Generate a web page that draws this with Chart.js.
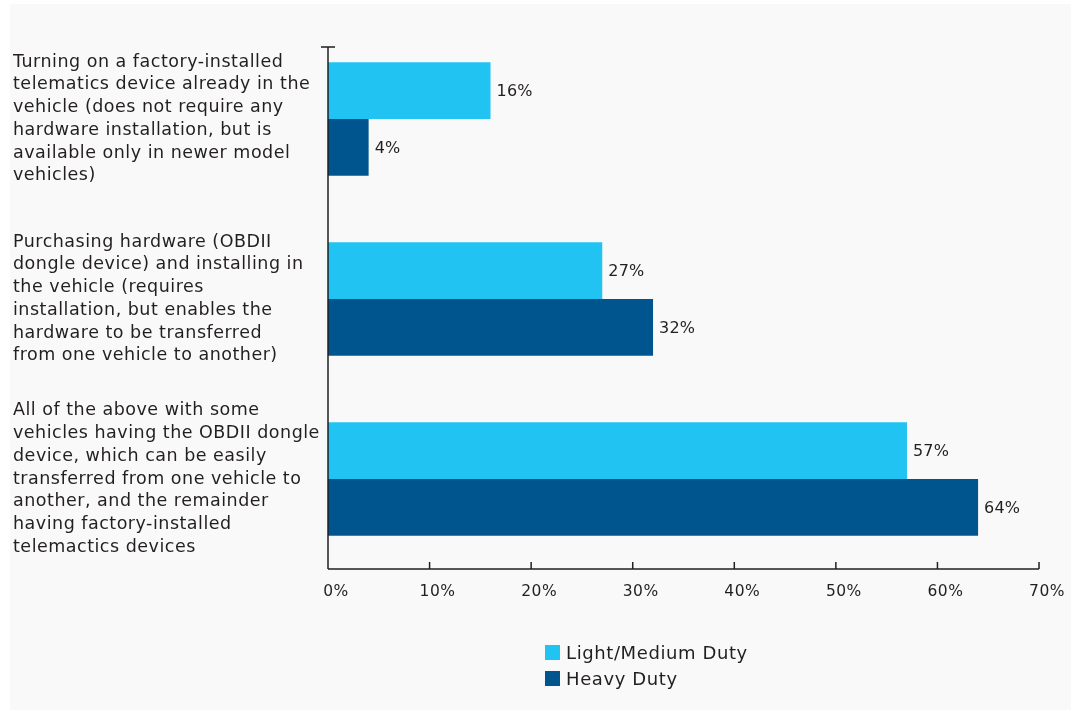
<!DOCTYPE html>
<html>
<head>
<meta charset="utf-8">
<script src="https://cdn.jsdelivr.net/npm/chart.js@4.4.1/dist/chart.umd.min.js"></script>
<style>
  body { margin: 0; background: #ffffff; }
  #wrap {
    position: absolute;
    left: 10px;
    top: 4px;
    width: 1061px;
    height: 706px;
    background: #f9f9f9;
  }
  #legend {
    position: absolute;
    left: 535px;
    top: 635px;
    font-family: "DejaVu Sans", sans-serif;
    font-size: 18px;
    letter-spacing: 0.6px;
    color: #231f20;
  }
  .item { display: flex; align-items: center; height: 26px; }
  .box { width: 15px; height: 15px; margin-right: 6px; }
</style>
</head>
<body>
<div id="wrap">
  <canvas id="chart" width="1061" height="706"></canvas>
  <div id="legend"></div>
</div>
<script>
const categories = [
  ["Turning on a factory-installed", "telematics device already in the", "vehicle (does not require any", "hardware installation, but is", "available only in newer model", "vehicles)"],
  ["Purchasing hardware (OBDII", "dongle device) and installing in", "the vehicle (requires", "installation, but enables the", "hardware to be transferred", "from one vehicle to another)"],
  ["All of the above with some", "vehicles having the OBDII dongle", "device, which can be easily", "transferred from one vehicle to", "another, and the remainder", "having factory-installed", "telemactics devices"]
];
const seriesNames = ["Light/Medium Duty", "Heavy Duty"];
const lightMedium = [16, 27, 57];
const heavy = [4, 32, 64];
const xTicks = [0, 10, 20, 30, 40, 50, 60, 70];

const colors = ["#21c3f3", "#01558e"];
const textColor = "#231f20";
const fontFamily = "'DejaVu Sans', sans-serif";

// the reference font is wide, so space the letters a little
const spacing = {
  id: "spacing",
  beforeUpdate(chart) { chart.ctx.letterSpacing = "0.5px"; },
  beforeDraw(chart) { chart.ctx.letterSpacing = "0.5px"; }
};

// value labels at the end of each bar
const valueLabels = {
  id: "valueLabels",
  afterDatasetsDraw(chart) {
    const ctx = chart.ctx;
    ctx.save();
    ctx.letterSpacing = "0.2px";
    ctx.font = "16px " + fontFamily;
    ctx.fillStyle = textColor;
    ctx.textBaseline = "middle";
    chart.data.datasets.forEach((ds, i) => {
      chart.getDatasetMeta(i).data.forEach((bar, j) => {
        ctx.fillText(ds.data[j] + "%", bar.x + 6, bar.y + 1);
      });
    });
    ctx.restore();
  }
};

// axis lines with upward ticks on x and a cap on the y axis
const axisLines = {
  id: "axisLines",
  afterDraw(chart) {
    const ctx = chart.ctx;
    const x = chart.scales.x;
    const area = chart.chartArea;
    ctx.save();
    ctx.strokeStyle = "#231f20";
    ctx.lineWidth = 1.5;
    const top = area.top + 18;
    ctx.beginPath();
    ctx.moveTo(area.left, top);
    ctx.lineTo(area.left, area.bottom);
    ctx.moveTo(area.left - 7, top);
    ctx.lineTo(area.left + 7, top);
    ctx.moveTo(area.left, area.bottom);
    ctx.lineTo(area.right, area.bottom);
    xTicks.forEach(v => {
      const px = x.getPixelForValue(v);
      ctx.moveTo(px, area.bottom - 7);
      ctx.lineTo(px, area.bottom);
    });
    ctx.stroke();
    ctx.restore();
  }
};

const chart = new Chart(document.getElementById("chart"), {
  type: "bar",
  data: {
    labels: categories,
    datasets: [
      { label: seriesNames[0], data: lightMedium, backgroundColor: colors[0] },
      { label: seriesNames[1], data: heavy, backgroundColor: colors[1] }
    ]
  },
  options: {
    indexAxis: "y",
    responsive: false,
    animation: false,
    layout: { padding: { left: 3, right: 31, top: 25, bottom: 81 } },
    datasets: { bar: { categoryPercentage: 0.63, barPercentage: 1 } },
    plugins: {
      legend: { display: false },
      tooltip: { enabled: false }
    },
    scales: {
      x: {
        min: 0,
        max: 70,
        grid: { display: false, drawTicks: false },
        border: { display: false },
        afterFit(scale) { scale.height = 60; },
        ticks: {
          stepSize: 10,
          padding: 14,
          labelOffset: 8,
          color: textColor,
          font: { family: fontFamily, size: 15.5 },
          callback: v => v + "%"
        }
      },
      y: {
        grid: { display: false, drawTicks: false },
        border: { display: false },
        afterFit(scale) {
          scale.width = 315;
          scale.paddingTop = 0;
          scale.paddingBottom = 0;
        },
        ticks: {
          autoSkip: false,
          crossAlign: "far",
          color: textColor,
          font: { family: fontFamily, size: 17.5, lineHeight: 1.3 }
        }
      }
    }
  },
  plugins: [spacing, valueLabels, axisLines]
});

// stacked legend below the chart
const legend = document.getElementById("legend");
seriesNames.forEach((name, i) => {
  const item = document.createElement("div");
  item.className = "item";
  item.innerHTML = '<span class="box" style="background:' + colors[i] + '"></span>' + name;
  legend.appendChild(item);
});
</script>
</body>
</html>
